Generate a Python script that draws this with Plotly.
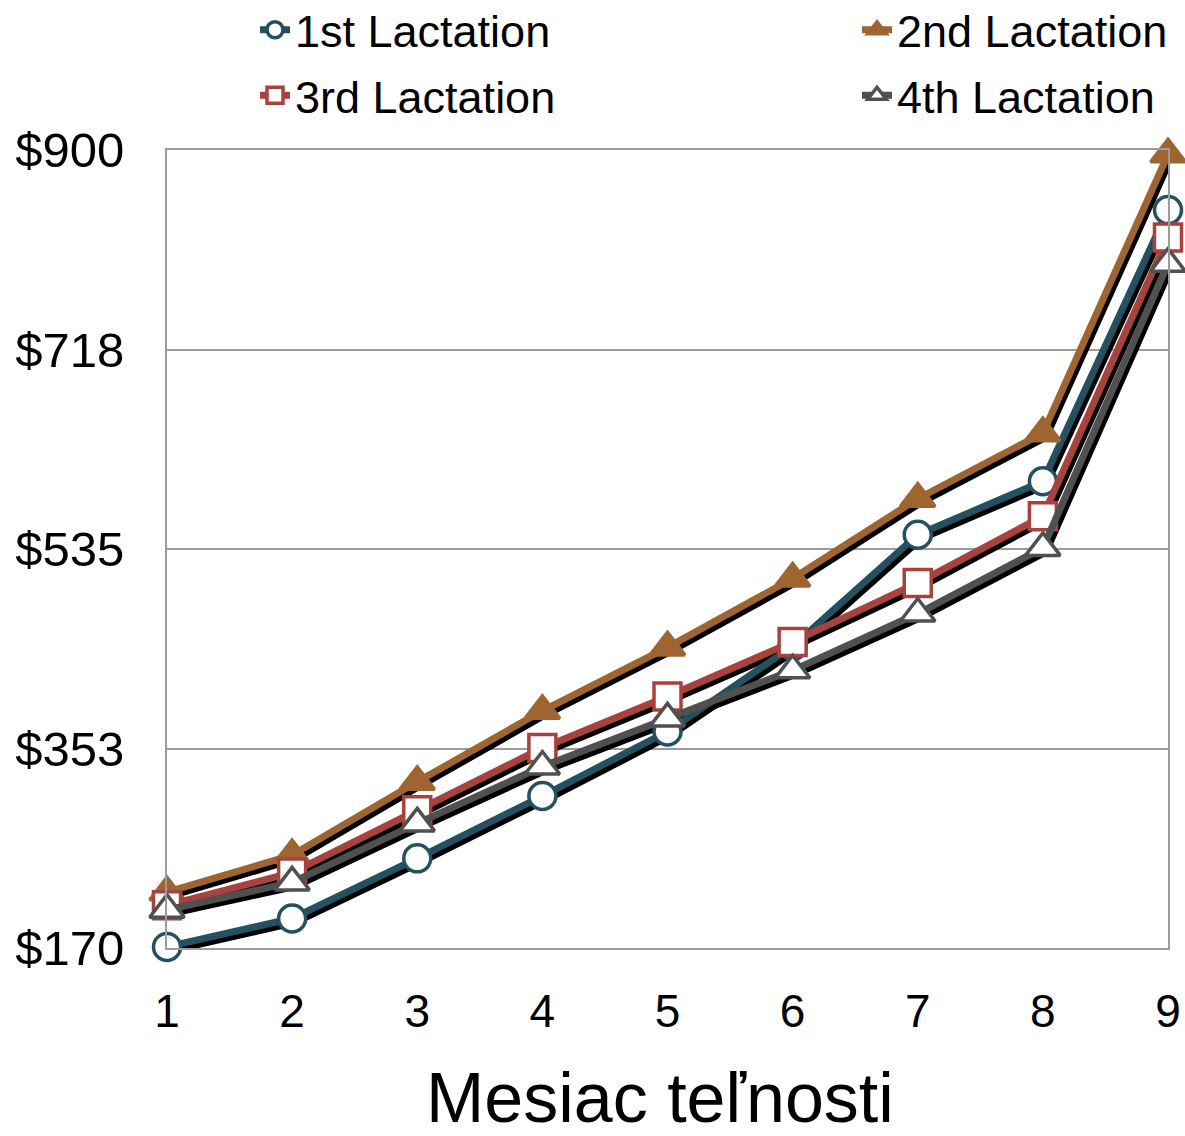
import plotly.graph_objects as go

# ---------------- data ----------------
months = [1, 2, 3, 4, 5, 6, 7, 8, 9]
month_labels = ["1", "2", "3", "4", "5", "6", "7", "8", "9"]

lact1 = [171, 197, 252, 309, 368, 446, 548, 597, 845]
lact2 = [221, 255, 322, 387, 445, 508, 581, 641, 896]
lact3 = [209, 239, 296, 353, 400, 450, 504, 565, 820]
lact4 = [205, 230, 284, 336, 380, 424, 476, 536, 796]

series_names = ["1st Lactation", "2nd Lactation", "3rd Lactation", "4th Lactation"]

y_ticks = [170, 352.5, 535, 717.5, 900]
y_tick_labels = ["$170", "$353", "$535", "$718", "$900"]

x_title = "Mesiac teľnosti"

# ---------------- style ----------------
FONT = "Liberation Sans, Arial, sans-serif"
W, H = 1185, 1136
ML, MR, MT, MB = 167, 17, 150, 188
plot_w = W - ML - MR
plot_h = H - MT - MB
x_lo, x_hi = 1, 9
y_lo, y_hi = 170, 900
px_per_x = plot_w / (x_hi - x_lo)
px_per_y = plot_h / (y_hi - y_lo)
shadow_dx, shadow_dy = 3, 4  # pixel offset of the drop shadow

styles = [
    dict(color="#24505F", symbol="circle", fill="white", size=27),
    dict(color="#9E6531", symbol="triangle-up", fill="#9E6531", size=30),
    dict(color="#A8423D", symbol="square", fill="white", size=27),
    dict(color="#505050", symbol="triangle-up", fill="white", size=30),
]
legend_ids = ["legend", "legend2", "legend", "legend2"]
all_series = [lact1, lact2, lact3, lact4]

fig = go.Figure()

# shadows (on hidden, pixel-shifted axes x/y -> drawn below)
for name, vals, st in zip(series_names, all_series, styles):
    fig.add_trace(go.Scatter(
        x=months, y=vals, mode="lines", xaxis="x", yaxis="y",
        line=dict(color="black", width=7), showlegend=False,
        legendgroup=name, hoverinfo="skip", cliponaxis=False,
    ))

# coloured series (on visible axes x2/y2)
for name, vals, st, lg in zip(series_names, all_series, styles, legend_ids):
    fig.add_trace(go.Scatter(
        x=months, y=vals, name=name, mode="lines+markers",
        xaxis="x2", yaxis="y2", legend=lg, legendgroup=name,
        line=dict(color=st["color"], width=7),
        marker=dict(symbol=st["symbol"], size=st["size"], color=st["fill"],
                    line=dict(color=st["color"], width=3.5)),
        cliponaxis=False,
    ))

grid_col = "#9C9C9C"
leg_common = dict(xref="container", xanchor="left",
                  y=1 + (MT + 6) / plot_h, yref="paper", yanchor="top",
                  font=dict(size=45, family=FONT, color="black"),
                  bgcolor="rgba(0,0,0,0)", traceorder="grouped", tracegroupgap=4)

fig.update_layout(
    width=W, height=H,
    margin=dict(l=ML, r=MR, t=MT, b=MB, autoexpand=False),
    paper_bgcolor="white", plot_bgcolor="white",
    font=dict(family=FONT, color="black"),
    xaxis=dict(range=[x_lo - shadow_dx / px_per_x, x_hi - shadow_dx / px_per_x],
               visible=False, fixedrange=True),
    yaxis=dict(range=[y_lo + shadow_dy / px_per_y, y_hi + shadow_dy / px_per_y],
               visible=False, fixedrange=True),
    xaxis2=dict(range=[x_lo, x_hi], overlaying="x", anchor="y2", side="bottom",
                tickmode="array", tickvals=months, ticktext=month_labels,
                tickfont=dict(size=46, family=FONT, color="black"),
                showgrid=False, zeroline=False, automargin=False,
                showline=True, linecolor=grid_col, linewidth=2, mirror=True,
                ticks="", ticklabelstandoff=22),
    yaxis2=dict(range=[y_lo, y_hi], overlaying="y", anchor="x2", side="left",
                tickmode="array", tickvals=y_ticks, ticktext=y_tick_labels,
                tickfont=dict(size=49, family=FONT, color="black"),
                showgrid=True, gridcolor=grid_col, gridwidth=1.5, zeroline=False,
                automargin=False,
                showline=True, linecolor=grid_col, linewidth=2, mirror=True,
                ticks="", ticklabelstandoff=31),
    legend=dict(x=255 / W, **leg_common),
    legend2=dict(x=857 / W, **leg_common),
    annotations=[dict(text=x_title, xref="paper", yref="paper",
                      x=0.493, y=-0.1877, xanchor="center", yanchor="middle",
                      showarrow=False, font=dict(size=70, family=FONT, color="black"))],
)

fig.write_html("out.html",
               config={"displayModeBar": False},
               post_script="document.body.style.margin='0';document.body.style.overflow='hidden';")
